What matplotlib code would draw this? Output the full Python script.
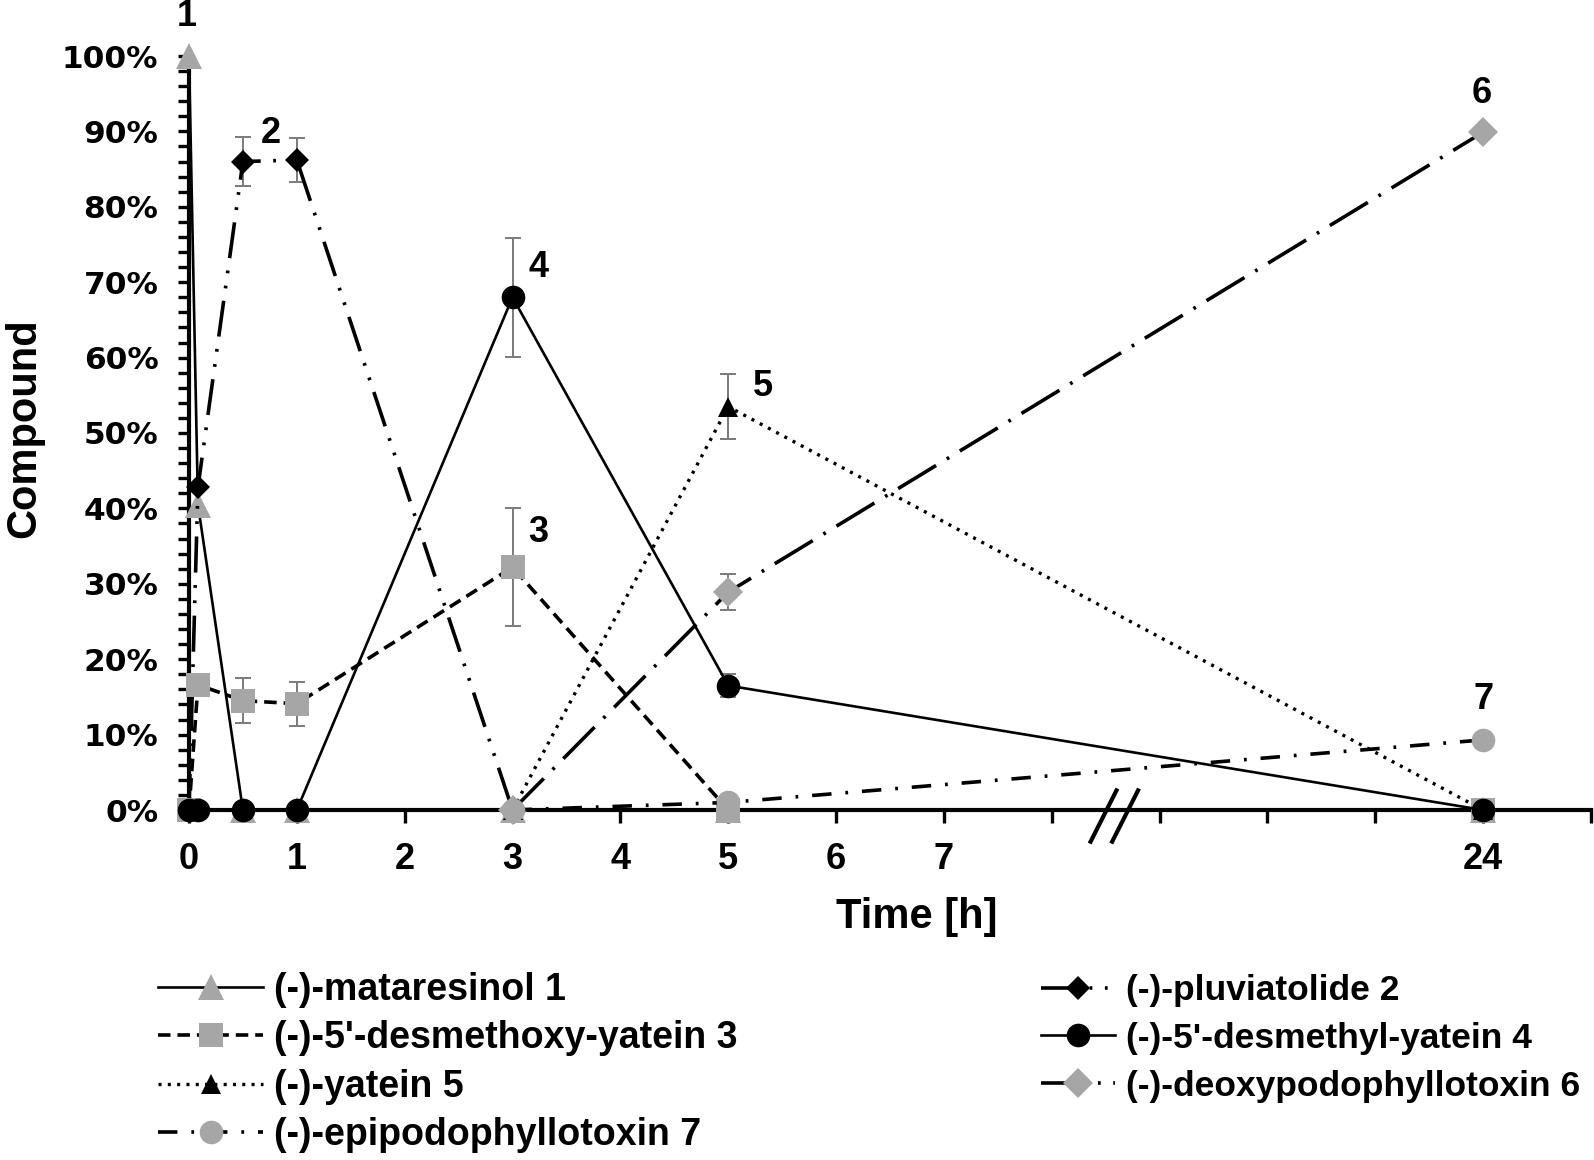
"""Time course of lignan conversion (broken time axis at 7-24 h)."""

import numpy as np
import matplotlib
matplotlib.use("Agg")
import matplotlib.pyplot as plt
from matplotlib.lines import Line2D

plt.rcParams["lines.scale_dashes"] = False

# --- data -------------------------------------------------------------
time_h = np.array([0, 0.083, 0.5, 1, 3, 5, 24])
xtick_labels = ["0", "1", "2", "3", "4", "5", "6", "7", "24"]
nan = np.nan

mataresinol = np.array([100, 40.5, 0, 0, 0, 0, 0])
pluviatolide = np.array([0, 42.8, 86.0, 86.2, 0, nan, nan])
pluviatolide_err = np.array([0, 0, 3.2, 2.9, 0, 0, 0])
desmethoxy_yatein = np.array([0, 16.6, 14.5, 14.1, 32.2, 0, 0])
desmethoxy_yatein_err = np.array([0, 0, 3.0, 2.9, 7.8, 0, 0])
desmethyl_yatein = np.array([0, 0, 0, 0, 68.0, 16.5, 0])
desmethyl_yatein_err = np.array([0, 0, 0, 0, 7.9, 1.5, 0])
yatein = np.array([nan, nan, nan, nan, 0, 53.5, 0])
yatein_err = np.array([0, 0, 0, 0, 0, 4.3, 0])
deoxypodophyllotoxin = np.array([nan, nan, nan, nan, 0, 28.9, 89.9])
deoxypodophyllotoxin_err = np.array([0, 0, 0, 0, 0, 2.4, 0])
epipodophyllotoxin = np.array([nan, nan, nan, nan, 0, 1.0, 9.3])

GREY = "#a6a6a6"
ERR = "#7a7a7a"
BOLD = dict(family="Liberation Sans", weight="bold")


def to_axis(t):
    """Broken time axis: 0-7 h linear, 24 h drawn at position 12."""
    return np.where(t > 7, 12.0, t)


x = to_axis(time_h)

series = [
    # label, values, err, linestyle, lw, marker, ms, colour, peak label, label offset (px)
    ("(-)-mataresinol 1", mataresinol, None, "-", 1.9, "^", 19, GREY, "1", (-2, 40)),
    ("(-)-pluviatolide 2", pluviatolide, pluviatolide_err, (0, (26, 9, 2, 9, 2, 9)), 2.6, "D", 12, "black", "2", (-26, 27)),
    ("(-)-5'-desmethoxy-yatein 3", desmethoxy_yatein, desmethoxy_yatein_err, (0, (9, 5)), 2.6, "s", 17, GREY, "3", (26, 35)),
    ("(-)-5'-desmethyl-yatein 4", desmethyl_yatein, desmethyl_yatein_err, "-", 1.9, "o", 17, "black", "4", (26, 30)),
    ("(-)-yatein 5", yatein, yatein_err, (0, (2.2, 4.5)), 2.4, "^", 15, "black", "5", (35, 20)),
    ("(-)-deoxypodophyllotoxin 6", deoxypodophyllotoxin, deoxypodophyllotoxin_err, (0, (32, 9, 2, 9)), 2.6, "D", 15, GREY, "6", (-1, 39)),
    ("(-)-epipodophyllotoxin 7", epipodophyllotoxin, None, (0, (14, 10, 2, 10)), 2.6, "o", 17, GREY, "7", (0, 40)),
]

fig = plt.figure(figsize=(15.94, 11.6), dpi=100)
W, H = 1594, 1160
ax = fig.add_axes([189 / W, 1 - 810 / H, (1591 - 189) / W, (810 - 56) / H])

handles = {}
for i, (label, y, err, ls, lw, mk, ms, col, tag, off) in enumerate(series):
    if err is not None:
        m = err > 0
        ax.errorbar(x[m], y[m], yerr=err[m], fmt="none", ecolor=ERR, elinewidth=1.4,
                    capsize=6, capthick=1.4, zorder=2 + i * 0.1, clip_on=False)
    mask = ~np.isnan(y)
    (h,) = ax.plot(x[mask], y[mask], linestyle=ls, linewidth=lw, color="black",
                   marker=mk, markersize=ms, markerfacecolor=col, markeredgecolor=col,
                   markeredgewidth=0, zorder=3 + i * 0.1, clip_on=False,
                   dash_capstyle="butt")
    handles[label] = h
    k = int(np.nanargmax(y))
    ax.annotate(tag, xy=(x[k], y[k]), xytext=off, textcoords="offset pixels",
                ha="center", va="center", fontsize=26, **BOLD)

# --- axes -------------------------------------------------------------
ax.set_xlim(0, 13)
ax.set_ylim(0, 100)
for s in ["top", "right"]:
    ax.spines[s].set_visible(False)
for s in ["left", "bottom"]:
    ax.spines[s].set_linewidth(3)
    ax.spines[s].set_zorder(2.5)

ax.set_xticks(np.arange(0, 14))
ax.set_xticklabels(xtick_labels[:8] + ["", "", "", "", xtick_labels[8], ""])
ax.tick_params(axis="x", length=9, width=2.4, direction="out", pad=14)
for t in ax.get_xticklabels():
    t.set_fontsize(26)
    t.set_fontfamily("Liberation Sans")
    t.set_fontweight("bold")

ax.set_yticks(np.arange(0, 101, 10))
ax.set_yticks(np.arange(0, 101, 2), minor=True)
ax.set_yticklabels([f"{v}%" for v in range(0, 101, 10)])
ax.tick_params(axis="y", which="both", length=8, width=2.4, direction="out")
ax.tick_params(axis="y", which="major", pad=14)
for t in ax.get_yticklabels():
    t.set_fontsize(22.5)
    t.set_fontfamily("DejaVu Sans")
    t.set_fontweight("bold")

# axis break marks between 7 h and 24 h
for x0 in (8.60, 8.80):
    ax.add_line(Line2D([x0, x0 - 0.24], [2.6, -4.2], color="black", lw=3,
                       clip_on=False, zorder=5))

fig.text(24 / W, 1 - 428 / H, "Compound", rotation=90, ha="center", va="center",
         fontsize=30, **BOLD)
fig.text(917 / W, 1 - 917 / H, "Time [h]", ha="center", va="center",
         fontsize=30, **BOLD)

# --- legends (two columns) ---------------------------------------------
left_labels = [series[i][0] for i in (0, 2, 4, 6)]
right_labels = [series[i][0] for i in (1, 3, 5)]
leg_kw = dict(loc="upper left", frameon=False, borderpad=0, borderaxespad=0,
              handletextpad=0.3, numpoints=1)
fig.legend([handles[l] for l in left_labels], left_labels, handlelength=2.8,
           labelspacing=0.33, prop=dict(family="Liberation Sans", weight="bold", size=27),
           bbox_to_anchor=(158 / W, 1 - 972 / H), **leg_kw)
fig.legend([handles[l] for l in right_labels], right_labels, handlelength=2.1,
           labelspacing=0.42, prop=dict(family="Liberation Sans", weight="bold", size=25.5),
           bbox_to_anchor=(1041 / W, 1 - 974 / H), **leg_kw)

fig.savefig("out.png", dpi=100)
